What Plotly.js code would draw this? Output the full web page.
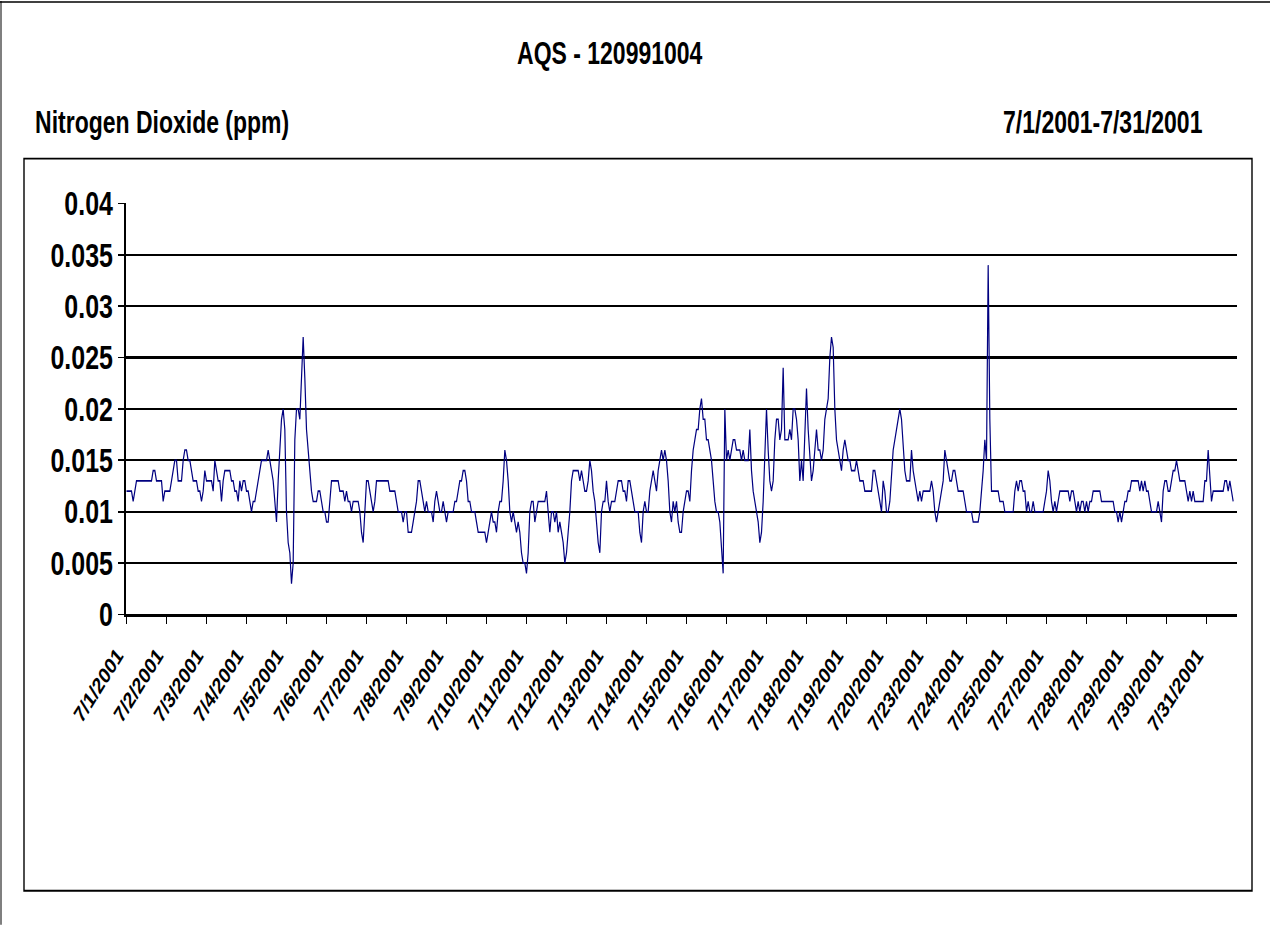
<!DOCTYPE html>
<html>
<head>
<meta charset="utf-8">
<script src="https://cdn.plot.ly/plotly-3.0.1.min.js"></script>
<style>
html,body{margin:0;padding:0;background:#fff;overflow:hidden;}
#wrap{width:1270px;height:926px;overflow:hidden;}
#chart{width:1270px;transform-origin:0 0;}
</style>
</head>
<body>
<div id="wrap"><div id="chart"></div></div>
<script>
// Hourly NO2 (ppm), one array per labelled day
const d0701=[0.012,0.012,0.012,0.012,0.011,0.012,0.013,0.013,0.013,0.013,0.013,0.013,0.013,0.013,0.013,0.013,0.014,0.014,0.013,0.013,0.013,0.013,0.011,0.012];
const d0702=[0.012,0.012,0.012,0.013,0.014,0.015,0.015,0.013,0.013,0.013,0.015,0.016,0.016,0.015,0.015,0.014,0.013,0.013,0.013,0.012,0.012,0.011,0.012,0.014];
const d0703=[0.013,0.013,0.013,0.013,0.012,0.015,0.014,0.013,0.013,0.011,0.013,0.014,0.014,0.014,0.014,0.013,0.013,0.012,0.012,0.011,0.013,0.012,0.013,0.013];
const d0704=[0.012,0.012,0.011,0.010,0.011,0.011,0.012,0.013,0.014,0.015,0.015,0.015,0.015,0.016,0.015,0.014,0.013,0.011,0.009,0.013,0.016,0.019,0.020,0.018];
const d0705=[0.010,0.007,0.006,0.003,0.005,0.017,0.020,0.020,0.019,0.023,0.027,0.023,0.018,0.016,0.014,0.012,0.011,0.011,0.011,0.012,0.012,0.011,0.010,0.010];
const d0706=[0.009,0.009,0.011,0.013,0.013,0.013,0.013,0.013,0.012,0.012,0.012,0.011,0.012,0.011,0.011,0.010,0.011,0.011,0.011,0.011,0.010,0.008,0.007,0.010];
const d0707=[0.013,0.013,0.012,0.011,0.010,0.011,0.013,0.013,0.013,0.013,0.013,0.013,0.013,0.013,0.012,0.012,0.012,0.012,0.011,0.010,0.010,0.010,0.009,0.010];
const d0708=[0.010,0.008,0.008,0.008,0.009,0.010,0.011,0.013,0.013,0.012,0.011,0.010,0.011,0.010,0.010,0.010,0.009,0.011,0.012,0.011,0.010,0.010,0.011,0.010];
const d0709=[0.009,0.010,0.010,0.010,0.010,0.011,0.011,0.012,0.013,0.013,0.014,0.014,0.013,0.011,0.011,0.010,0.010,0.010,0.009,0.008,0.008,0.008,0.008,0.008];
const d0710=[0.007,0.008,0.009,0.010,0.009,0.009,0.008,0.010,0.011,0.011,0.013,0.016,0.015,0.013,0.010,0.009,0.010,0.009,0.008,0.009,0.008,0.006,0.005,0.005];
const d0711=[0.004,0.006,0.010,0.011,0.011,0.009,0.010,0.011,0.011,0.011,0.011,0.011,0.012,0.010,0.008,0.010,0.010,0.009,0.010,0.008,0.009,0.008,0.007,0.005];
const d0712=[0.006,0.008,0.010,0.013,0.014,0.014,0.014,0.014,0.013,0.014,0.013,0.012,0.012,0.013,0.015,0.014,0.012,0.011,0.009,0.007,0.006,0.010,0.011,0.011];
const d0713=[0.013,0.011,0.010,0.011,0.011,0.011,0.012,0.013,0.013,0.013,0.012,0.012,0.011,0.013,0.013,0.012,0.011,0.010,0.010,0.010,0.008,0.007,0.010,0.011];
const d0714=[0.010,0.010,0.012,0.013,0.014,0.013,0.012,0.014,0.015,0.016,0.015,0.016,0.015,0.013,0.010,0.009,0.011,0.010,0.011,0.009,0.008,0.008,0.010,0.011];
const d0715=[0.012,0.012,0.011,0.014,0.016,0.017,0.018,0.018,0.020,0.021,0.019,0.019,0.017,0.017,0.016,0.015,0.013,0.011,0.010,0.010,0.009,0.006,0.004,0.020];
const d0716=[0.015,0.016,0.015,0.016,0.017,0.017,0.016,0.016,0.016,0.015,0.016,0.015,0.015,0.015,0.018,0.014,0.012,0.011,0.010,0.009,0.007,0.008,0.011,0.015];
const d0717=[0.020,0.016,0.013,0.012,0.013,0.017,0.019,0.019,0.017,0.018,0.024,0.017,0.017,0.017,0.018,0.017,0.020,0.020,0.019,0.017,0.013,0.015,0.013,0.017];
const d0718=[0.022,0.018,0.015,0.013,0.014,0.016,0.018,0.016,0.016,0.015,0.016,0.019,0.020,0.021,0.025,0.027,0.026,0.020,0.017,0.016,0.015,0.014,0.016,0.017];
const d0719=[0.016,0.015,0.015,0.014,0.014,0.014,0.015,0.014,0.013,0.013,0.013,0.012,0.012,0.012,0.012,0.012,0.014,0.014,0.013,0.012,0.011,0.010,0.013,0.012];
const d0720=[0.010,0.010,0.011,0.014,0.016,0.017,0.018,0.019,0.020,0.019,0.016,0.014,0.013,0.013,0.013,0.016,0.014,0.013,0.012,0.011,0.012,0.011,0.012,0.012];
const d0723=[0.012,0.012,0.012,0.013,0.012,0.010,0.009,0.010,0.011,0.012,0.013,0.016,0.015,0.014,0.013,0.013,0.014,0.014,0.013,0.012,0.012,0.012,0.012,0.011];
const d0724=[0.010,0.010,0.010,0.010,0.009,0.009,0.009,0.009,0.010,0.012,0.014,0.017,0.015,0.034,0.019,0.012,0.012,0.012,0.012,0.012,0.011,0.011,0.011,0.010];
const d0725=[0.010,0.010,0.010,0.010,0.010,0.012,0.013,0.012,0.013,0.013,0.012,0.012,0.010,0.011,0.010,0.010,0.011,0.010,0.010,0.010,0.010,0.010,0.010,0.011];
const d0727=[0.012,0.014,0.013,0.011,0.010,0.011,0.010,0.011,0.012,0.012,0.012,0.012,0.012,0.012,0.011,0.012,0.012,0.011,0.010,0.011,0.010,0.011,0.011,0.010];
const d0728=[0.011,0.010,0.011,0.011,0.012,0.012,0.012,0.012,0.012,0.011,0.011,0.011,0.011,0.011,0.011,0.011,0.011,0.010,0.010,0.009,0.010,0.009,0.010,0.011];
const d0729=[0.011,0.012,0.012,0.013,0.013,0.013,0.013,0.013,0.012,0.013,0.012,0.013,0.012,0.012,0.011,0.010,0.010,0.010,0.010,0.011,0.010,0.009,0.012,0.013];
const d0730=[0.013,0.012,0.012,0.013,0.014,0.014,0.015,0.014,0.013,0.013,0.013,0.013,0.012,0.011,0.012,0.011,0.012,0.011,0.011,0.011,0.011,0.011,0.011,0.013];
const d0731=[0.013,0.016,0.013,0.011,0.012,0.012,0.012,0.012,0.012,0.012,0.012,0.013,0.013,0.012,0.013,0.012,0.011];

const dayLabels=['7/1/2001','7/2/2001','7/3/2001','7/4/2001','7/5/2001','7/6/2001','7/7/2001','7/8/2001','7/9/2001','7/10/2001','7/11/2001','7/12/2001','7/13/2001','7/14/2001','7/15/2001','7/16/2001','7/17/2001','7/18/2001','7/19/2001','7/20/2001','7/23/2001','7/24/2001','7/25/2001','7/27/2001','7/28/2001','7/29/2001','7/30/2001','7/31/2001'];
const yTickVals=[0,0.005,0.01,0.015,0.02,0.025,0.03,0.035,0.04];
const yTickText=['0','0.005','0.01','0.015','0.02','0.025','0.03','0.035','0.04'];

const chartTitle='AQS - 120991004';
const leftSub='Nitrogen Dioxide (ppm)';
const rightSub='7/1/2001-7/31/2001';

const days=[d0701,d0702,d0703,d0704,d0705,d0706,d0707,d0708,d0709,d0710,d0711,d0712,d0713,d0714,d0715,d0716,d0717,d0718,d0719,d0720,d0723,d0724,d0725,d0727,d0728,d0729,d0730,d0731];
const values=[].concat(...days);
const xIdx=values.map((v,i)=>i);
const tickVals=[];let acc=0;
days.forEach(d=>{tickVals.push(acc);acc+=d.length;});

// The reference picture is vertically stretched; draw unstretched, then scale in y.
const K=1.33;
const L=126,R=1237,T=203,B=615,W=1270,H=926;   // target (stretched) pixel geometry
const px=x=>(x-L)/(R-L);
const py=y=>(B-y)/(B-T);
const H0=H/K;

const FONT='Arial, "Liberation Sans", sans-serif';
const labAngle=-Math.atan(Math.tan(58*Math.PI/180)/K)*180/Math.PI;

const trace={x:xIdx,y:values,type:'scatter',mode:'lines',line:{color:'#000080',width:1.2},hoverinfo:'y'};

const layout={
  width:W,height:H0,
  margin:{l:L,r:W-R,t:T/K,b:(H-B)/K,pad:0},
  paper_bgcolor:'#fff',plot_bgcolor:'#fff',
  showlegend:false,
  font:{family:FONT,color:'#000'},
  xaxis:{range:[-0.3,666.3],tickmode:'array',tickvals:tickVals,ticktext:dayLabels,tickangle:labAngle,
    ticks:'outside',ticklen:5.5,tickwidth:1.5,tickcolor:'#000',showline:true,linecolor:'#000',linewidth:1.6,
    ticklabelstandoff:7,ticklabelshift:-9,
    showgrid:false,zeroline:false,tickfont:{family:FONT,size:17,weight:'bold',color:'#000'},fixedrange:true},
  yaxis:{range:[0,0.04],tickmode:'array',tickvals:yTickVals,ticktext:yTickText,
    ticks:'outside',ticklen:6,tickwidth:1.3,tickcolor:'#000',showline:true,linecolor:'#000',linewidth:2,
    showgrid:true,gridcolor:'#000',gridwidth:1.7,zeroline:false,
    tickfont:{family:FONT,size:25,weight:'bold',color:'#000'},fixedrange:true},
  shapes:[
    {type:'rect',xref:'paper',yref:'paper',x0:px(24),x1:px(1252),y0:py(892),y1:py(158),line:{color:'#000',width:1.4},layer:'below'},
    {type:'line',xref:'paper',yref:'paper',x0:px(0),x1:px(1270),y0:py(1),y1:py(1),line:{color:'#000',width:1}},
    {type:'line',xref:'paper',yref:'paper',x0:px(1),x1:px(1),y0:py(0),y1:py(926),line:{color:'#000',width:1}}
  ],
  annotations:[
    {text:chartTitle,xref:'paper',yref:'paper',x:px(610),y:py(53),xanchor:'center',yanchor:'middle',showarrow:false,
      font:{family:FONT,size:23,weight:'bold',color:'#000'}},
    {text:leftSub,xref:'paper',yref:'paper',x:px(33),y:py(121),xanchor:'left',yanchor:'middle',showarrow:false,
      font:{family:FONT,size:23,weight:'bold',color:'#000'}},
    {text:rightSub,xref:'paper',yref:'paper',x:px(1205),y:py(121),xanchor:'right',yanchor:'middle',showarrow:false,
      font:{family:FONT,size:23,weight:'bold',color:'#000'}}
  ]
};
const el=document.getElementById('chart');
el.style.height=H0+'px';
el.style.transform='scaleY('+K+')';
Plotly.newPlot(el,[trace],layout,{displayModeBar:false,staticPlot:true});
</script>
</body>
</html>
